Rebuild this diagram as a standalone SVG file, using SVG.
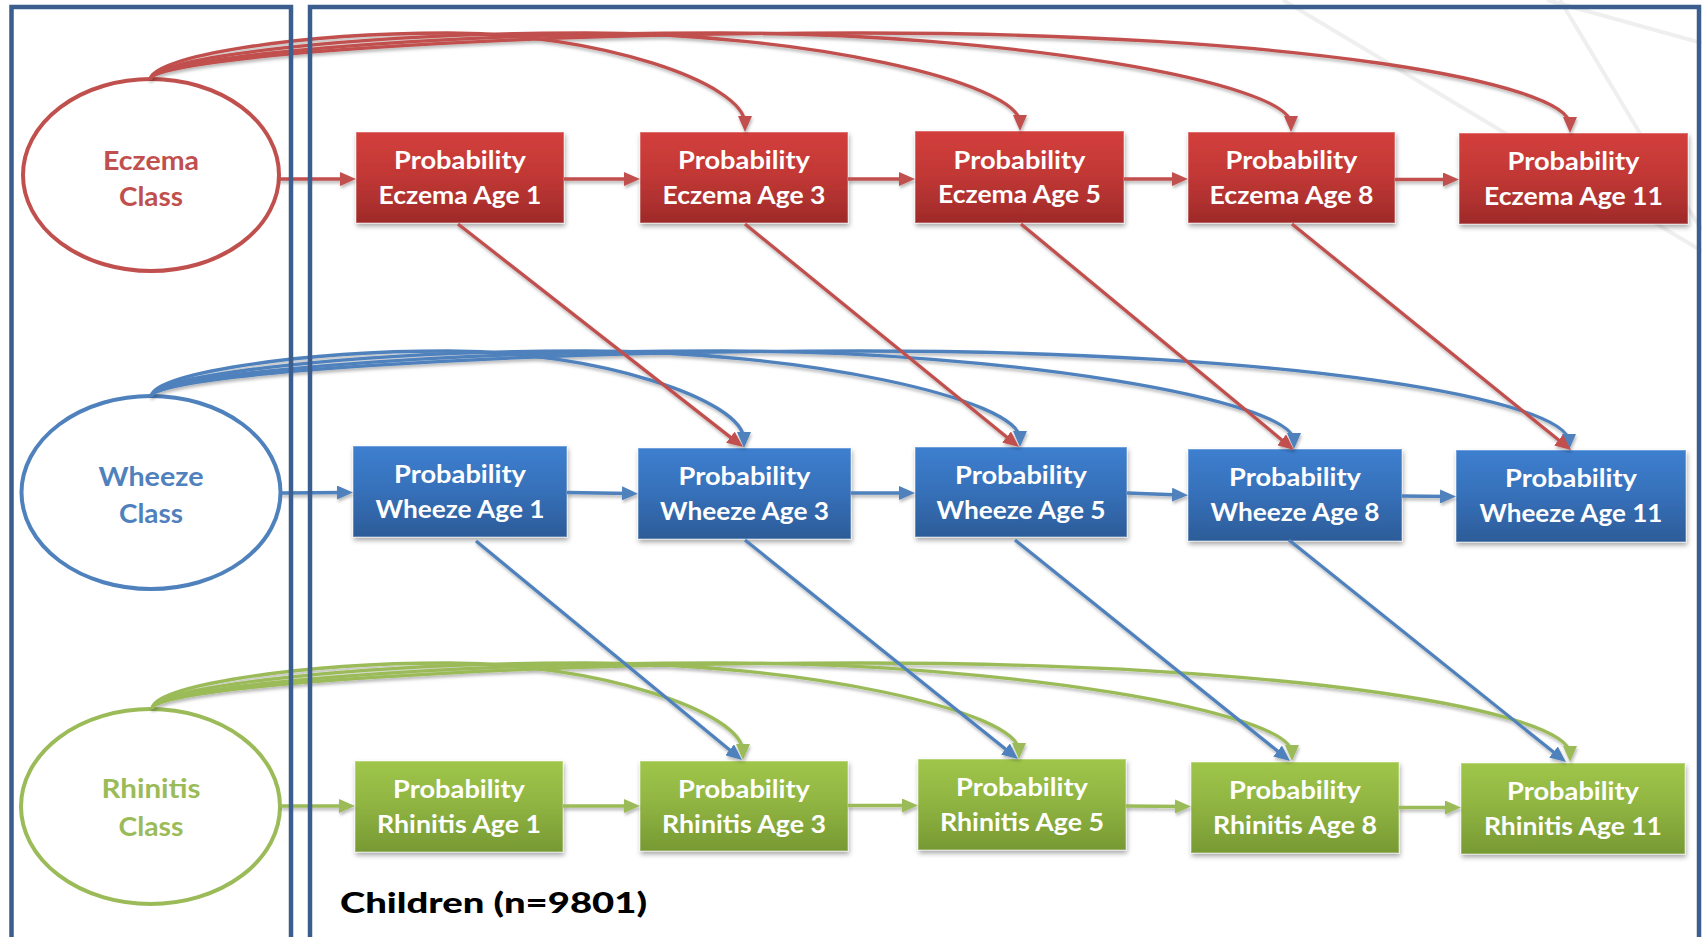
<svg xmlns="http://www.w3.org/2000/svg" width="1702" height="937" viewBox="0 0 1702 937">
  <style>
    .frame { fill: none; stroke: #3b5e8e; stroke-width: 4.5; }
    .bgline { fill: none; stroke: #efefef; stroke-width: 4; }
    .box { stroke: #ffffff; stroke-opacity: 0.35; stroke-width: 1.5; filter: url(#boxShadow); }
    .red { fill: url(#gRed); }
    .blue { fill: url(#gBlue); }
    .green { fill: url(#gGreen); }
    .lbl { font-family: Lato, "Liberation Sans", sans-serif; font-weight: 700; font-size: 24.5px; fill: #ffffff; text-anchor: middle; }
    .oval { fill: #ffffff; stroke-width: 4; }
    .olbl { font-family: Lato, "Liberation Sans", sans-serif; font-weight: 700; font-size: 27.5px; text-anchor: middle; }
    .cr { fill: none; stroke: #c0504d; stroke-width: 3.3; marker-end: url(#aRed); }
    .cb { fill: none; stroke: #4f81bd; stroke-width: 3.3; marker-end: url(#aBlue); }
    .cg { fill: none; stroke: #9bbb59; stroke-width: 3.3; marker-end: url(#aGreen); }
    .title { font-family: Lato, "Liberation Sans", sans-serif; font-weight: 900; font-size: 28.5px; fill: #000000; }
  </style>
  <defs>
    <linearGradient id="gRed" x1="0" y1="0" x2="0" y2="1">
      <stop offset="0" stop-color="#d33f3c"/>
      <stop offset="0.5" stop-color="#c03735"/>
      <stop offset="1" stop-color="#9e2a29"/>
    </linearGradient>
    <linearGradient id="gBlue" x1="0" y1="0" x2="0" y2="1">
      <stop offset="0" stop-color="#3d7fcf"/>
      <stop offset="0.5" stop-color="#3670b9"/>
      <stop offset="1" stop-color="#2c5c98"/>
    </linearGradient>
    <linearGradient id="gGreen" x1="0" y1="0" x2="0" y2="1">
      <stop offset="0" stop-color="#9fc64a"/>
      <stop offset="0.5" stop-color="#8fb341"/>
      <stop offset="1" stop-color="#779933"/>
    </linearGradient>
    <filter id="boxShadow" x="-10%" y="-15%" width="125%" height="145%">
      <feDropShadow dx="1" dy="3" stdDeviation="2.5" flood-color="#000000" flood-opacity="0.35"/>
    </filter>
    <filter id="lineShadow" filterUnits="userSpaceOnUse" x="0" y="0" width="1702" height="937">
      <feDropShadow dx="1" dy="2.5" stdDeviation="1.5" flood-color="#000000" flood-opacity="0.28"/>
    </filter>
    <marker id="aRed" viewBox="0 0 16 14" markerUnits="userSpaceOnUse" markerWidth="16" markerHeight="14" refX="8" refY="7" orient="auto">
      <path d="M0,0 L16,7 L0,14 z" fill="#c0504d"/>
    </marker>
    <marker id="aBlue" viewBox="0 0 16 14" markerUnits="userSpaceOnUse" markerWidth="16" markerHeight="14" refX="8" refY="7" orient="auto">
      <path d="M0,0 L16,7 L0,14 z" fill="#4f81bd"/>
    </marker>
    <marker id="aGreen" viewBox="0 0 16 14" markerUnits="userSpaceOnUse" markerWidth="16" markerHeight="14" refX="8" refY="7" orient="auto">
      <path d="M0,0 L16,7 L0,14 z" fill="#9bbb59"/>
    </marker>
  </defs>

  <rect width="1702" height="937" fill="#ffffff"/>

  <!-- faint background strokes, top right -->
  <g id="background">
    <path class="bgline" d="M1283,0 L1702,251"/>
    <path class="bgline" d="M1560,0 L1650,150 L1702,230"/>
    <path class="bgline" d="M1547,0 L1702,43"/>
  </g>

  <!-- latent class ovals -->
  <g id="eczema-class">
    <ellipse class="oval" cx="151" cy="175" rx="128" ry="96" stroke="#c0504d"/>
    <text class="olbl" fill="#c0504d" x="151" y="170" textLength="96" lengthAdjust="spacingAndGlyphs">Eczema</text>
    <text class="olbl" fill="#c0504d" x="151" y="206" textLength="64" lengthAdjust="spacingAndGlyphs">Class</text>
  </g>
  <g id="wheeze-class">
    <ellipse class="oval" cx="151" cy="492.5" rx="129.5" ry="96.5" stroke="#4f81bd"/>
    <text class="olbl" fill="#4f81bd" x="151" y="486" textLength="105" lengthAdjust="spacingAndGlyphs">Wheeze</text>
    <text class="olbl" fill="#4f81bd" x="151" y="523" textLength="64" lengthAdjust="spacingAndGlyphs">Class</text>
  </g>
  <g id="rhinitis-class">
    <ellipse class="oval" cx="150.5" cy="806.5" rx="129.5" ry="97.5" stroke="#9bbb59"/>
    <text class="olbl" fill="#9bbb59" x="151" y="798" textLength="99" lengthAdjust="spacingAndGlyphs">Rhinitis</text>
    <text class="olbl" fill="#9bbb59" x="151" y="836" textLength="65" lengthAdjust="spacingAndGlyphs">Class</text>
  </g>

  <!-- eczema probabilities -->
  <g id="eczema-1">
    <rect class="box red" x="356" y="132" width="208" height="91"/>
    <text class="lbl" x="460" y="169" textLength="132" lengthAdjust="spacingAndGlyphs">Probability</text>
    <text class="lbl" x="460" y="203.5" textLength="163" lengthAdjust="spacingAndGlyphs">Eczema Age 1</text>
  </g>
  <g id="eczema-3">
    <rect class="box red" x="640" y="132" width="208" height="91"/>
    <text class="lbl" x="744" y="169" textLength="132" lengthAdjust="spacingAndGlyphs">Probability</text>
    <text class="lbl" x="744" y="203.5" textLength="163" lengthAdjust="spacingAndGlyphs">Eczema Age 3</text>
  </g>
  <g id="eczema-5">
    <rect class="box red" x="915" y="131" width="209" height="92"/>
    <text class="lbl" x="1019.5" y="168.5" textLength="132" lengthAdjust="spacingAndGlyphs">Probability</text>
    <text class="lbl" x="1019.5" y="203" textLength="163" lengthAdjust="spacingAndGlyphs">Eczema Age 5</text>
  </g>
  <g id="eczema-8">
    <rect class="box red" x="1188" y="132" width="207" height="91"/>
    <text class="lbl" x="1291.5" y="169" textLength="132" lengthAdjust="spacingAndGlyphs">Probability</text>
    <text class="lbl" x="1291.5" y="203.5" textLength="164" lengthAdjust="spacingAndGlyphs">Eczema Age 8</text>
  </g>
  <g id="eczema-11">
    <rect class="box red" x="1459" y="133" width="229" height="91"/>
    <text class="lbl" x="1573.5" y="170" textLength="132" lengthAdjust="spacingAndGlyphs">Probability</text>
    <text class="lbl" x="1573.5" y="204.5" textLength="179" lengthAdjust="spacingAndGlyphs">Eczema Age 11</text>
  </g>

  <!-- wheeze probabilities -->
  <g id="wheeze-1">
    <rect class="box blue" x="353" y="446" width="214" height="91"/>
    <text class="lbl" x="460" y="483" textLength="132" lengthAdjust="spacingAndGlyphs">Probability</text>
    <text class="lbl" x="460" y="517.5" textLength="169" lengthAdjust="spacingAndGlyphs">Wheeze Age 1</text>
  </g>
  <g id="wheeze-3">
    <rect class="box blue" x="638" y="448" width="213" height="91"/>
    <text class="lbl" x="744.5" y="485" textLength="132" lengthAdjust="spacingAndGlyphs">Probability</text>
    <text class="lbl" x="744.5" y="519.5" textLength="169" lengthAdjust="spacingAndGlyphs">Wheeze Age 3</text>
  </g>
  <g id="wheeze-5">
    <rect class="box blue" x="915" y="447" width="212" height="90"/>
    <text class="lbl" x="1021" y="484" textLength="132" lengthAdjust="spacingAndGlyphs">Probability</text>
    <text class="lbl" x="1021" y="518.5" textLength="169" lengthAdjust="spacingAndGlyphs">Wheeze Age 5</text>
  </g>
  <g id="wheeze-8">
    <rect class="box blue" x="1188" y="449" width="214" height="92"/>
    <text class="lbl" x="1295" y="486" textLength="132" lengthAdjust="spacingAndGlyphs">Probability</text>
    <text class="lbl" x="1295" y="520.5" textLength="169" lengthAdjust="spacingAndGlyphs">Wheeze Age 8</text>
  </g>
  <g id="wheeze-11">
    <rect class="box blue" x="1456" y="450" width="230" height="92"/>
    <text class="lbl" x="1571" y="487" textLength="132" lengthAdjust="spacingAndGlyphs">Probability</text>
    <text class="lbl" x="1571" y="521.5" textLength="183" lengthAdjust="spacingAndGlyphs">Wheeze Age 11</text>
  </g>

  <!-- rhinitis probabilities -->
  <g id="rhinitis-1">
    <rect class="box green" x="355" y="761" width="208" height="91"/>
    <text class="lbl" x="459" y="798" textLength="132" lengthAdjust="spacingAndGlyphs">Probability</text>
    <text class="lbl" x="459" y="832.5" textLength="164" lengthAdjust="spacingAndGlyphs">Rhinitis Age 1</text>
  </g>
  <g id="rhinitis-3">
    <rect class="box green" x="640" y="761" width="208" height="90"/>
    <text class="lbl" x="744" y="798" textLength="132" lengthAdjust="spacingAndGlyphs">Probability</text>
    <text class="lbl" x="744" y="832.5" textLength="164" lengthAdjust="spacingAndGlyphs">Rhinitis Age 3</text>
  </g>
  <g id="rhinitis-5">
    <rect class="box green" x="918" y="759" width="208" height="91"/>
    <text class="lbl" x="1022" y="796" textLength="132" lengthAdjust="spacingAndGlyphs">Probability</text>
    <text class="lbl" x="1022" y="830.5" textLength="164" lengthAdjust="spacingAndGlyphs">Rhinitis Age 5</text>
  </g>
  <g id="rhinitis-8">
    <rect class="box green" x="1191" y="762" width="208" height="91"/>
    <text class="lbl" x="1295" y="799" textLength="132" lengthAdjust="spacingAndGlyphs">Probability</text>
    <text class="lbl" x="1295" y="833.5" textLength="164" lengthAdjust="spacingAndGlyphs">Rhinitis Age 8</text>
  </g>
  <g id="rhinitis-11">
    <rect class="box green" x="1461" y="763" width="224" height="91"/>
    <text class="lbl" x="1573" y="800" textLength="132" lengthAdjust="spacingAndGlyphs">Probability</text>
    <text class="lbl" x="1573" y="834.5" textLength="178" lengthAdjust="spacingAndGlyphs">Rhinitis Age 11</text>
  </g>

  <!-- connectors -->
  <g id="connectors" filter="url(#lineShadow)">
    <!-- class to later ages, arched over each row -->
    <path class="cr" d="M150,80 C150,56.5 298.75,33 447.5,33 C596.25,33 745,82.5 745,124"/>
    <path class="cr" d="M150,80 C150,56.5 367.5,33 585,33 C802.5,33 1020,82 1020,123"/>
    <path class="cr" d="M150,80 C150,56.5 435.25,33 720.5,33 C1005.75,33 1291,82.5 1291,124"/>
    <path class="cr" d="M150,80 C150,56.5 505,33 860,33 C1300,33 1570,83 1570,125"/>

    <path class="cb" d="M151,397 C151,374 299,351 447.5,351 C595.75,351 744,399.5 744,440"/>
    <path class="cb" d="M151,397 C151,374 368,351 585.5,351 C802.75,351 1020,399 1020,439"/>
    <path class="cb" d="M151,397 C151,374 437,351 722.5,351 C1008.25,351 1294,400 1294,441"/>
    <path class="cb" d="M151,397 C151,374 505.5,351 860,351 C1300,351 1569,400.5 1569,442"/>

    <path class="cg" d="M152,709 C152,686 299.75,663 447.5,663 C595.25,663 743,711.5 743,752"/>
    <path class="cg" d="M152,709 C152,686 368.75,663 585.5,663 C802.25,663 1019,711 1019,751"/>
    <path class="cg" d="M152,709 C152,686 437,663 722,663 C1007,663 1292,712 1292,753"/>
    <path class="cg" d="M152,709 C152,686 506.5,663 861,663 C1300,663 1570,712 1570,754"/>

    <!-- row chains -->
    <path class="cr" d="M279,179 L348,179"/>
    <path class="cr" d="M564,179 L632,179"/>
    <path class="cr" d="M848,179 L907,179"/>
    <path class="cr" d="M1124,179 L1180,179"/>
    <path class="cr" d="M1395,179.5 L1451,179.5"/>

    <path class="cb" d="M281,493 L345,492.5"/>
    <path class="cb" d="M567,492.5 L630,493.5"/>
    <path class="cb" d="M851,493 L907,493"/>
    <path class="cb" d="M1127,493 L1180,495"/>
    <path class="cb" d="M1402,496 L1448,496.5"/>

    <path class="cg" d="M280,806 L347,806"/>
    <path class="cg" d="M563,806 L632,806"/>
    <path class="cg" d="M848,805.5 L910,805.5"/>
    <path class="cg" d="M1126,806 L1183,806.5"/>
    <path class="cg" d="M1399,807.5 L1453,807.5"/>

    <!-- cross-lagged diagonals -->
    <path class="cr" d="M458,224 L736.7,442.1"/>
    <path class="cr" d="M745,224 L1012.8,442"/>
    <path class="cr" d="M1021,224 L1287.8,444.9"/>
    <path class="cr" d="M1292,224 L1564.8,445"/>

    <path class="cb" d="M476,541 L735.8,754.9"/>
    <path class="cb" d="M745,540 L1011.7,754"/>
    <path class="cb" d="M1015,540 L1283.8,756"/>
    <path class="cb" d="M1289,540 L1559.7,757"/>
  </g>

  <!-- panel frames -->
  <g id="frames">
    <path class="frame" d="M11.5,945 V7 H291 V945"/>
    <path class="frame" d="M310,945 V7 H1699 V945"/>
  </g>

  <text class="title" x="340" y="913" textLength="307" lengthAdjust="spacingAndGlyphs">Children (n=9801)</text>
</svg>
